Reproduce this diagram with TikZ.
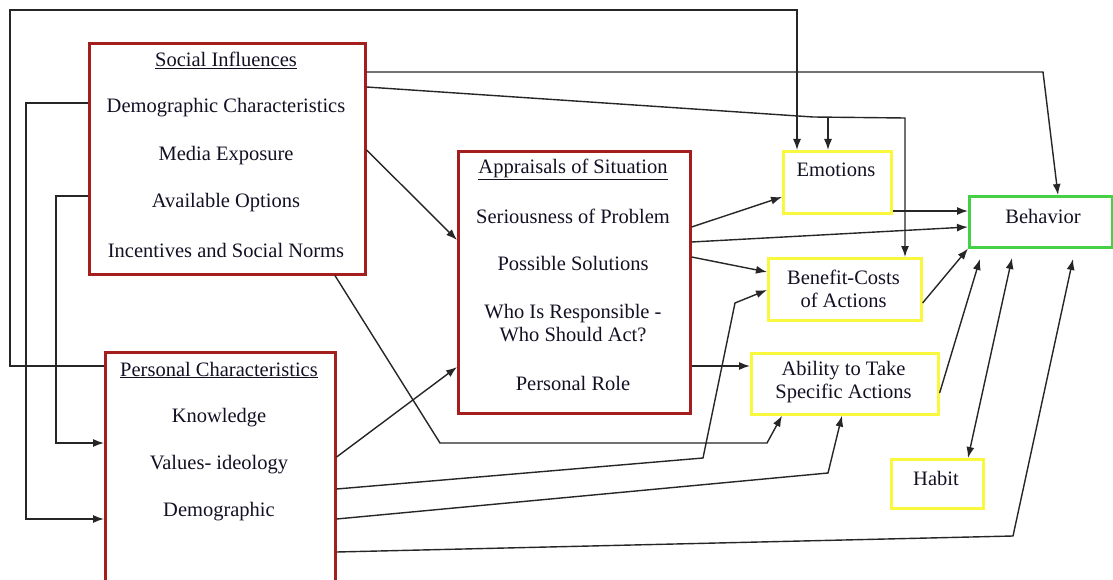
\documentclass[tikz,border=0pt]{standalone}
\usepackage{fontspec}
\setmainfont{Liberation Serif}
\usetikzlibrary{arrows.meta}
\definecolor{boxred}{RGB}{165,30,30}
\definecolor{boxyellow}{RGB}{250,248,60}
\definecolor{boxgreen}{RGB}{70,208,70}
\definecolor{ink}{RGB}{20,16,36}
\begin{document}
\begin{tikzpicture}[x=1pt,y=-1pt,
  box/.style={draw,line width=2.6pt,inner sep=0pt,anchor=north west},
  redbox/.style={box,draw=boxred},
  yelbox/.style={box,draw=boxyellow},
  grnbox/.style={box,draw=boxgreen},
  lbl/.style={text=ink,inner sep=0pt,align=center,font=\fontsize{20.5}{23}\selectfont},
  conn/.style={draw=black!85,line width=1.4pt},
  arr/.style={conn,-{Latex[length=11pt,width=8pt]}},
  darr/.style={conn,{Latex[length=11pt,width=8pt]}-{Latex[length=11pt,width=8pt]}}]
\useasboundingbox[fill=white] (0,0) rectangle (1113,580);

% boxes
\node[redbox,minimum width=276pt,minimum height=231pt] (si) at (88,42) {};
\node[redbox,minimum width=230pt,minimum height=240pt] (pc) at (104,351) {};
\node[redbox,minimum width=232pt,minimum height=262pt] (ap) at (457,150) {};
\node[yelbox,minimum width=108pt,minimum height=62pt] (em) at (782,150) {};
\node[yelbox,minimum width=153pt,minimum height=62pt] (bc) at (767,257) {};
\node[yelbox,minimum width=187pt,minimum height=61pt] (ab) at (750,352) {};
\node[yelbox,minimum width=92pt,minimum height=49pt] (hab) at (890,458) {};
\node[grnbox,minimum width=143pt,minimum height=51pt] (beh) at (968,195) {};

% box texts
\node[lbl] (si0) at (226,60) {\underline{Social Influences}};
\node[lbl] (si1) at (226,108) {Demographic Characteristics};
\node[lbl] (si2) at (226,156) {Media Exposure};
\node[lbl] (si3) at (226,203) {Available Options};
\node[lbl] (si4) at (226,250) {Incentives and Social Norms};

\node[lbl] (pc0) at (219,370) {\underline{Personal Characteristics}};
\node[lbl] (pc1) at (219,418) {Knowledge};
\node[lbl] (pc2) at (219,465) {Values- ideology};
\node[lbl] (pc3) at (219,512) {Demographic};

\node[lbl] (ap0) at (573,169) {\underline{Appraisals of Situation}};
\node[lbl] (ap1) at (573,216) {Seriousness of Problem};
\node[lbl] (ap2) at (573,263) {Possible Solutions};
\node[lbl] (ap3) at (573,323.5) {Who Is Responsible -\\Who Should Act?};
\node[lbl] (ap4) at (573,383) {Personal Role};

\node[lbl] (emt) at (836,170) {Emotions};
\node[lbl] (bct) at (843.5,289) {Benefit-Costs\\of Actions};
\node[lbl] (abt) at (843.5,382.5) {Ability to Take\\Specific Actions};
\node[lbl] (habt) at (936,478) {Habit};
\node[lbl] (beht) at (1043,216) {Behavior};

% helper points
\coordinate (j1) at (828,117.5);
\coordinate (bin1) at (980,259);
\coordinate (bin2) at (1012,258);
\coordinate (bin3) at (1073,259);

% connectors from Social Influences
\draw[arr] (si.east |- 0,72) -- (1043,72) -- (beh.north -| 1058,0);
\draw[arr] (si.east |- 0,87) -- (813,117) -- (905,118) -- (bc.north -| 905,0);
\draw[arr] (j1) -- (em.north -| j1);
\draw[arr] (si.east |- 0,150) -- (ap.west |- 0,240);
\draw[arr] (si.south -| 335,0) -- (440,443) -- (767,443) -- (ab.south -| 782,0);
\draw[arr] (si.west |- 0,103) -| (26,519) -- (pc.west |- 0,519);
\draw[arr] (si.west |- 0,196) -| (56,443) -- (pc.west |- 0,443);

% outer loop from Personal Characteristics to Emotions
\draw[arr] (pc.west |- 0,366) -| (10,10) -| (em.north -| 797,0);

% connectors from Personal Characteristics
\draw[arr] (pc.east |- 0,457) -- (ap.west |- 0,367);
\draw[arr] (pc.east |- 0,489) -- (703,458) -- (735,303) -- (bc.west |- 0,290);
\draw[arr] (pc.east |- 0,519) -- (828,473) -- (ab.south -| 842,0);
\draw[arr] (pc.east |- 0,552) -- (1013,536) -- (bin3);

% connectors from Appraisals of Situation
\draw[arr] (ap.east |- 0,227) -- (em.west |- 0,197);
\draw[arr] (ap.east |- 0,242) -- (beh.west |- 0,227);
\draw[arr] (ap.east |- 0,257) -- (bc.west |- 0,272);
\draw[arr] (ap.east |- 0,366) -- (ab.west |- 0,366);

% into Behavior
\draw[arr] (em.east |- 0,211) -- (beh.west |- 0,211);
\draw[arr] (bc.east |- 0,303) -- (beh.south west);
\draw[arr] (ab.east |- 0,393) -- (bin1);
\draw[darr] (hab.north -| 968,0) -- (bin2);
\end{tikzpicture}
\end{document}
